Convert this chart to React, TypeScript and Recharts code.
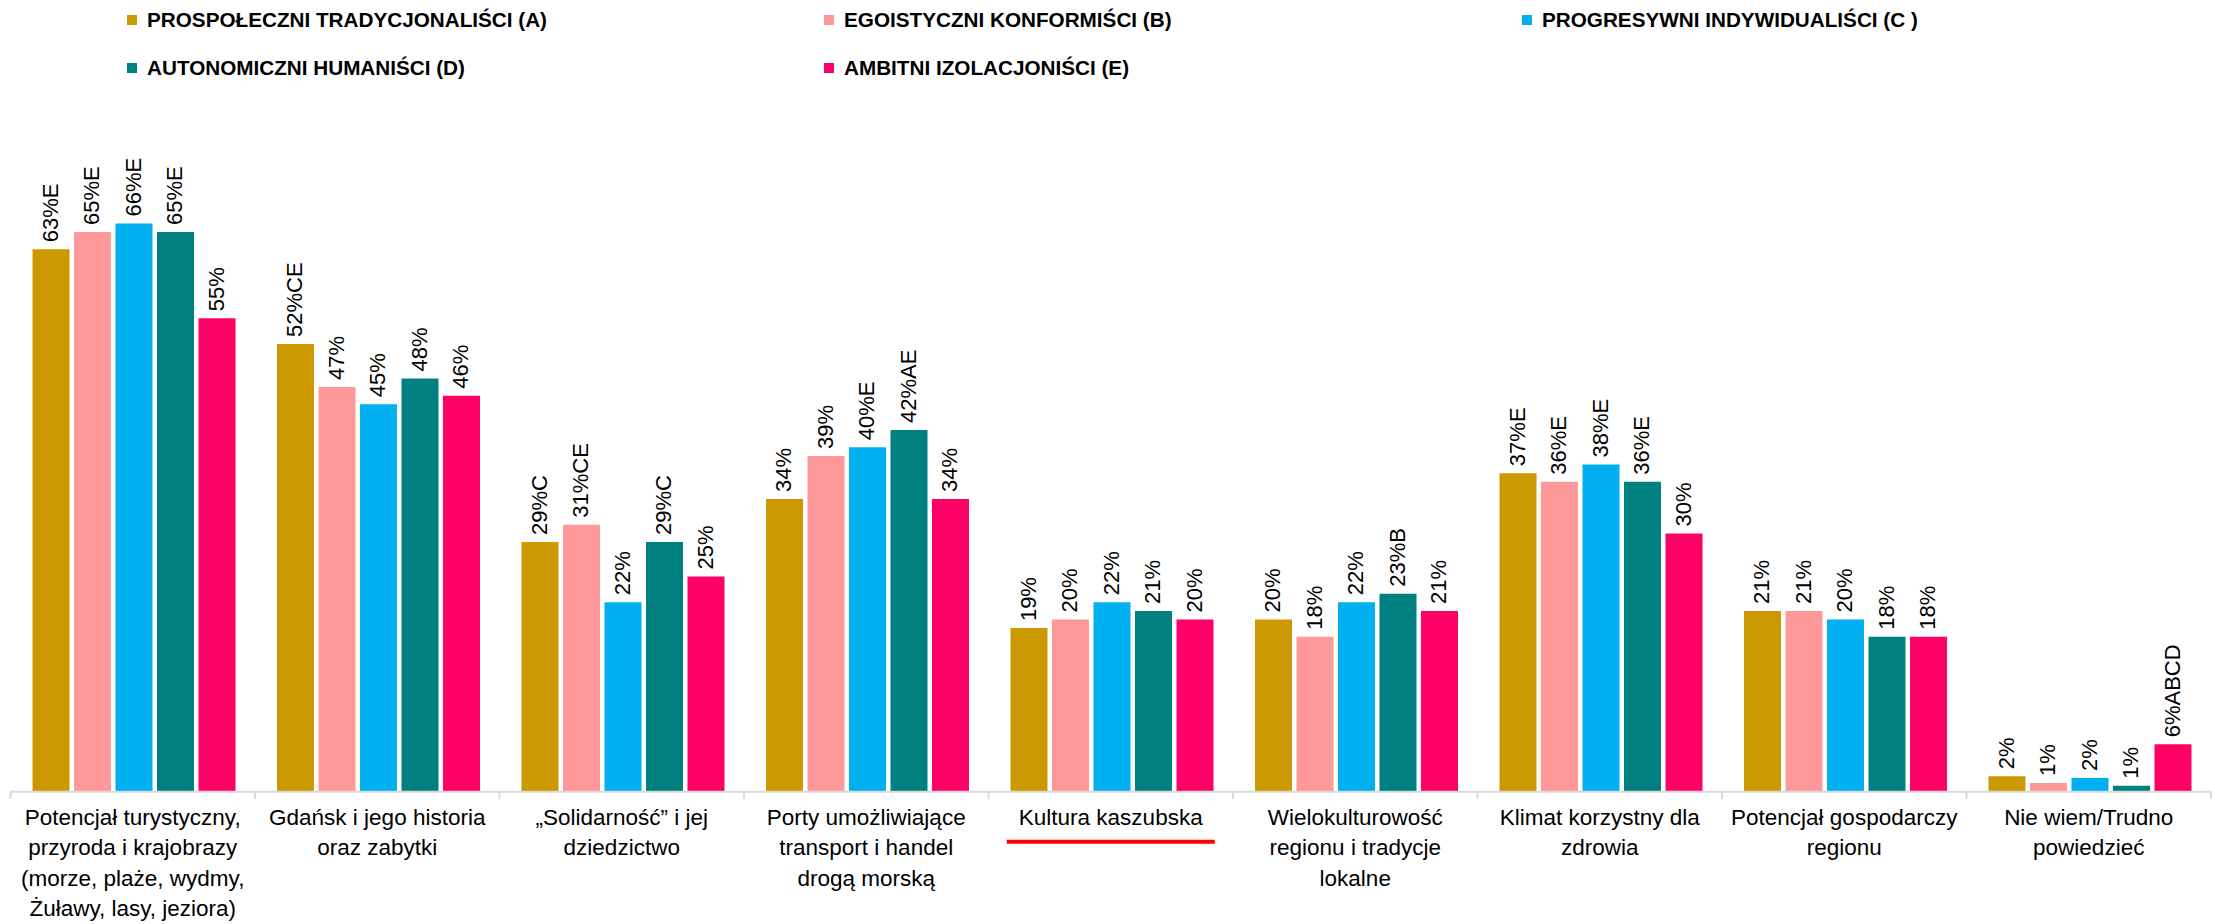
import React from "react";
import { Bar, BarChart, LabelList, Legend, XAxis, YAxis } from "recharts";

const categories = [
  "Potencjał turystyczny,\nprzyroda i krajobrazy\n(morze, plaże, wydmy,\nŻuławy, lasy, jeziora)",
  "Gdańsk i jego historia\noraz zabytki",
  "„Solidarność” i jej\ndziedzictwo",
  "Porty umożliwiające\ntransport i handel\ndrogą morską",
  "Kultura kaszubska",
  "Wielokulturowość\nregionu i tradycje\nlokalne",
  "Klimat korzystny dla\nzdrowia",
  "Potencjał gospodarczy\nregionu",
  "Nie wiem/Trudno\npowiedzieć",
];
const highlighted = "Kultura kaszubska";

const seriesNames = [
  "PROSPOŁECZNI TRADYCJONALIŚCI (A)",
  "EGOISTYCZNI KONFORMIŚCI (B)",
  "PROGRESYWNI INDYWIDUALIŚCI (C )",
  "AUTONOMICZNI HUMANIŚCI (D)",
  "AMBITNI IZOLACJONIŚCI (E)",
];

const valuesA = [63, 52, 29, 34, 19, 20, 37, 21, 1.8];
const valuesB = [65, 47, 31, 39, 20, 18, 36, 21, 1.0];
const valuesC = [66, 45, 22, 40, 22, 22, 38, 20, 1.6];
const valuesD = [65, 48, 29, 42, 21, 23, 36, 18, 0.7];
const valuesE = [55, 46, 25, 34, 20, 21, 30, 18, 5.5];

// significance letters shown after the percentage
const suffixA = ["E", "CE", "C", "", "", "", "E", "", ""];
const suffixB = ["E", "", "CE", "", "", "", "E", "", ""];
const suffixC = ["E", "", "", "E", "", "", "E", "", ""];
const suffixD = ["E", "", "C", "AE", "", "B", "E", "", ""];
const suffixE = ["", "", "", "", "", "", "", "", "ABCD"];

const keys = ["A", "B", "C", "D", "E"];
const colors = ["#CC9900", "#FF9999", "#00B0F0", "#008080", "#FF0066"];
const suffixes = [suffixA, suffixB, suffixC, suffixD, suffixE];

const data = categories.map((name, i) => ({
  name,
  A: valuesA[i],
  B: valuesB[i],
  C: valuesC[i],
  D: valuesD[i],
  E: valuesE[i],
}));

const FONT = "'Liberation Sans', Arial, sans-serif";

function CategoryTick(props: any) {
  const { x, y, payload, index, visibleTicksCount, width } = props;
  const half = payload.offset ?? width / visibleTicksCount / 2;
  const lines = String(payload.value).split("\n");
  return (
    <g>
      <line x1={x - half} x2={x - half} y1={y} y2={y + 7} stroke="#d9d9d9" strokeWidth={2} />
      {index === visibleTicksCount - 1 && (
        <line x1={x + half} x2={x + half} y1={y} y2={y + 7} stroke="#d9d9d9" strokeWidth={2} />
      )}
      <text x={x} y={y + 33} textAnchor="middle" fontSize={22.5} fill="#000" fontFamily={FONT}>
        {lines.map((l, i) => (
          <tspan key={i} x={x} dy={i === 0 ? 0 : 30.5}>
            {l}
          </tspan>
        ))}
      </text>
      {payload.value === highlighted && (
        <line x1={x - 104} x2={x + 104} y1={y + 50} y2={y + 50} stroke="#FF0000" strokeWidth={4} />
      )}
    </g>
  );
}

const makeLabel = (sfx: string[]) => (props: any) => {
  const { x, y, width, value, index } = props;
  const cx = Number(x) + Number(width) / 2 - 1;
  const top = Number(y) - 7;
  return (
    <text
      transform={`translate(${cx},${top}) rotate(-90)`}
      textAnchor="start"
      dominantBaseline="central"
      fontSize={22}
      fontFamily={FONT}
      fill="#000"
    >
      {`${Math.round(Number(value))}%${sfx[index]}`}
    </text>
  );
};

function LegendBlock(props: any) {
  const items = props.payload || [];
  return (
    <div
      style={{
        display: "grid",
        gridTemplateColumns: "697px 698px 600px",
        rowGap: 8,
        paddingLeft: 127,
        fontFamily: FONT,
      }}
    >
      {items.map((it: any) => (
        <div key={it.value} style={{ display: "flex", alignItems: "center", height: 40 }}>
          <span style={{ width: 10, height: 10, background: it.color, marginRight: 10, display: "inline-block" }} />
          <span style={{ fontSize: 20.7, fontWeight: 700, color: "#000", whiteSpace: "nowrap" }}>{it.value}</span>
        </div>
      ))}
    </div>
  );
}

export default function App() {
  return (
    <div style={{ position: "fixed", top: 0, left: 0, width: 2215, height: 924, background: "#fff" }}>
      <BarChart
        width={2215}
        height={924}
        data={data}
        margin={{ top: 102.9, right: 4, bottom: 0, left: 10.5 }}
        barCategoryGap={22}
        barGap={4.5}
      >
        <XAxis
          dataKey="name"
          interval={0}
          height={132.3}
          tickSize={0}
          tickMargin={0}
          tickLine={false}
          axisLine={{ stroke: "#d9d9d9", strokeWidth: 2 }}
          tick={<CategoryTick />}
        />
        <YAxis hide domain={[0, 80]} />
        <Legend
          layout="horizontal"
          verticalAlign="middle"
          align="center"
          itemSorter="dataKey"
          wrapperStyle={{ top: 0, left: 0, width: 2215 }}
          content={<LegendBlock />}
        />
        {keys.map((k, i) => (
          <Bar key={k} dataKey={k} name={seriesNames[i]} fill={colors[i]} isAnimationActive={false}>
            <LabelList dataKey={k} content={makeLabel(suffixes[i])} />
          </Bar>
        ))}
      </BarChart>
    </div>
  );
}
